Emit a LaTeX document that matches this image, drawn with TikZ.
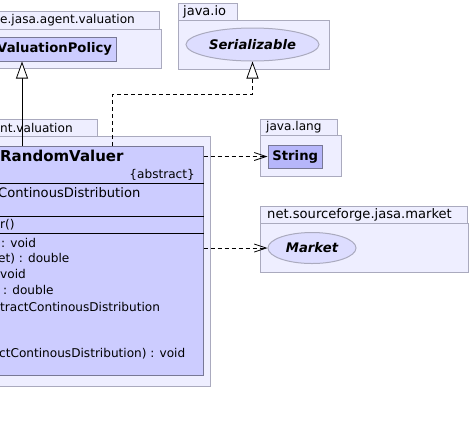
\documentclass[tikz,border=0pt]{standalone}
\usepackage{fontspec}
\setmainfont{DejaVu Sans}
\usetikzlibrary{arrows.meta,shapes.geometric}
\definecolor{pkgfill}{RGB}{238,238,255}
\definecolor{pkgline}{RGB}{170,170,190}
\definecolor{classfill}{RGB}{204,204,255}
\definecolor{classline}{RGB}{120,120,150}
\definecolor{reffill}{RGB}{182,182,250}
\definecolor{ifacefill}{RGB}{221,221,255}

\begin{document}
\begin{tikzpicture}[x=1pt,y=-1pt,
    font=\fontsize{12.1}{14}\selectfont,
    pkg/.style={draw=pkgline, fill=pkgfill, line width=1pt},
    pkglabel/.style={anchor=west, inner sep=0},
    classbox/.style={draw=classline, fill=classfill, line width=1pt, inner sep=0},
    iface/.style={ellipse, draw=pkgline, fill=ifacefill, line width=1pt, inner sep=0,
        font=\fontsize{13.2}{15}\selectfont\bfseries\itshape},
    member/.style={anchor=west, inner sep=0},
    generalize/.style={line width=0.8pt, -{Triangle[fill=white, length=17pt, width=12pt]}},
    realize/.style={line width=0.8pt, dash pattern=on 4pt off 3pt,
        -{Triangle[fill=white, length=17pt, width=12pt]}},
    depend/.style={line width=0.8pt, dash pattern=on 4pt off 3pt,
        -{Straight Barb[length=12pt, width=8pt]}}]
    \fill[white] (0,0) rectangle (470,424);
    \clip (0,0) rectangle (470,424);

    % packages
    \draw[pkg] (-100,11) rectangle (159,29);
    \draw[pkg] (-100,29) rectangle (161,68);
    \node[pkglabel] (pkgvp) at (0,20.5) {e.jasa.agent.valuation};

    \draw[pkg] (178,3) rectangle (237,20);
    \draw[pkg] (178,20) rectangle (329,69);
    \node[pkglabel, font=\fontsize{13}{15}\selectfont] (pkgio) at (183,12) {java.io};

    \draw[pkg] (-100,119) rectangle (97,136);
    \draw[pkg] (-100,136) rectangle (210,386);
    \node[pkglabel] (pkgrv) at (0,128) {nt.valuation};

    \draw[pkg] (260,119) rectangle (337,135.5);
    \draw[pkg] (260,135.5) rectangle (341,176);
    \node[pkglabel] (pkglang) at (266,127.5) {java.lang};

    \draw[pkg] (260,206) rectangle (467,223);
    \draw[pkg] (260,223) rectangle (468,272);
    \node[pkglabel, font=\fontsize{13.1}{15}\selectfont] (pkgmkt) at (267,214.5) {net.sourceforge.jasa.market};

    % classes
    \node[classbox, minimum width=188pt, minimum height=24pt, text width=180pt,
        align=right, font=\fontsize{13.2}{15}\selectfont\bfseries] (vp) at (22,49) {ValuationPolicy};
    \node[iface, minimum width=133pt, minimum height=33pt] (ser) at (252.5,44.5) {Serializable};
    \node[classbox, fill=reffill, minimum width=54.5pt, minimum height=23pt,
        font=\fontsize{13.2}{15}\selectfont\bfseries] (str) at (295.25,156.5) {String};
    \node[iface, minimum width=88pt, minimum height=31pt] (mkt) at (312,248) {Market};

    \node[classbox, minimum width=362pt, minimum height=229.6pt] (rv) at (22,260.8) {};
    \node[member, font=\fontsize{15}{17}\selectfont\bfseries] (rvname) at (0,156) {RandomValuer};
    \node[anchor=east, inner sep=0] (rvabs) at (195,175) {\{abstract\}};
    \draw[line width=0.8pt] (rv.west |- 0,183.3) -- (rv.east |- 0,183.3);
    \draw[line width=0.8pt] (rv.west |- 0,216) -- (rv.east |- 0,216);
    \draw[line width=0.8pt] (rv.west |- 0,233.3) -- (rv.east |- 0,233.3);
    \node[member, font=\fontsize{13.1}{15}\selectfont] (attr) at (-2,192.5) {ContinousDistribution};
    \node[member] (ctor) at (0,225) {r()};
    \node[member] (opa) at (1,243) {: void};
    \node[member] (opb) at (-2,259) {et) : double};
    \node[member] (opc) at (0,274) {void};
    \node[member] (opd) at (3,290) {: double};
    \node[member] (ope) at (0,306.5) {tractContinousDistribution};
    \node[member] (opf) at (-1,353.5) {ctContinousDistribution) : void};

    % connectors
    \coordinate (rbend) at (112,94.5);
    \draw[generalize] (rv.north) -- (vp.south);
    \draw[realize] (rbend |- rv.north) -- (rbend) -| (ser.south);
    \draw[depend] (rv.east |- str.west) -- (str.west);
    \draw[depend] (rv.east |- mkt.west) -- (mkt.west);
\end{tikzpicture}
\end{document}
